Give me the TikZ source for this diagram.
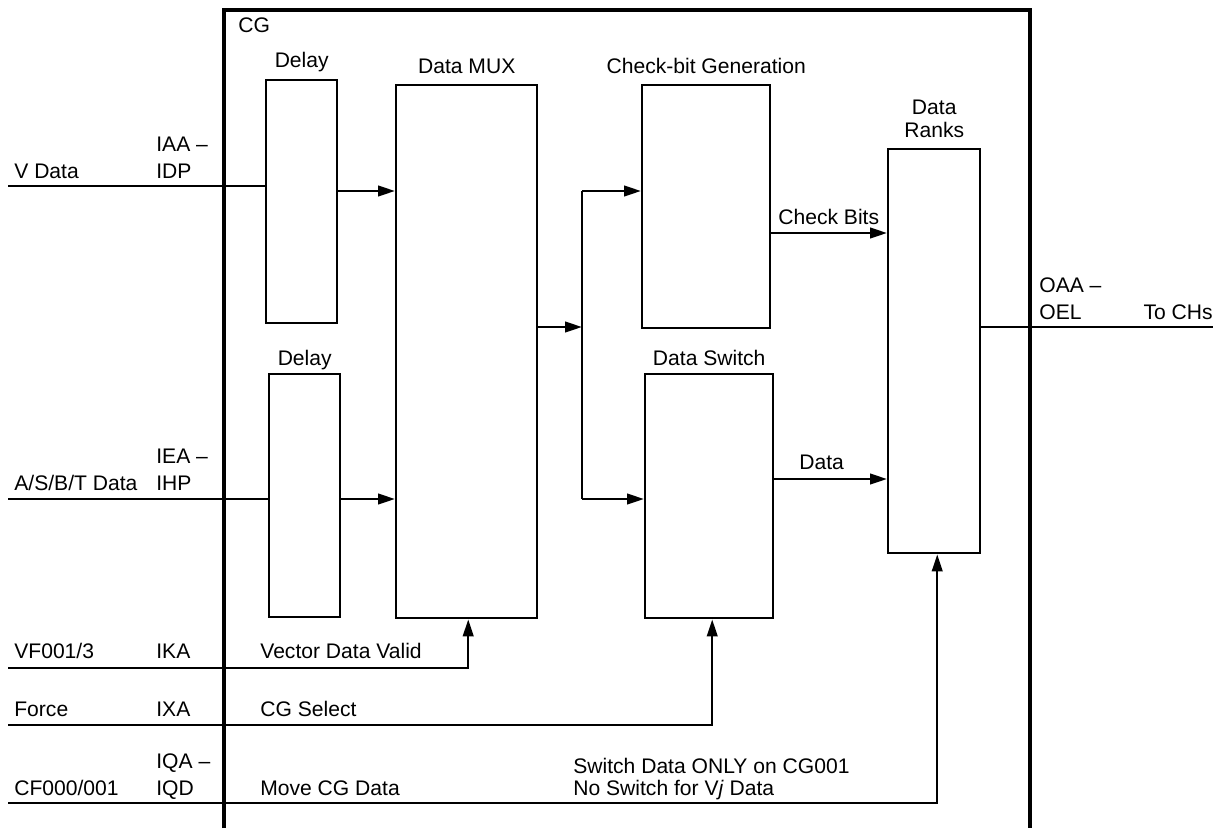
\documentclass[tikz,border=0pt]{standalone}
\usepackage{fontspec}
\setmainfont{Liberation Sans}
\usetikzlibrary{arrows.meta,positioning}

\begin{document}
\begin{tikzpicture}[
  x=0.02cm, y=-0.02cm,
  box/.style={rectangle, draw=black, line width=1.4pt, inner sep=0pt, anchor=north west},
  ttl/.style={inner sep=0pt, text depth=0pt, align=center, font=\fontsize{12}{13}\selectfont},
  lbl/.style={inner sep=0pt, text depth=0pt, anchor=south west, align=left, font=\fontsize{12}{15.4}\selectfont},
  wire/.style={line width=1.4pt},
  arrow/.style={-{Triangle[length=3.4mm, width=2.1mm]}, line width=1.4pt},
  frame/.style={line width=2.2pt}
]
\useasboundingbox (0,0) rectangle (1223,828);

% CG frame, open at the bottom
\draw[frame] (224,828) -- (224,10) -- (1030,10) -- (1030,828);
\node[lbl] (cgt) at (238,33) {CG};

% blocks
\node[box, minimum width=1.42cm, minimum height=4.86cm] (dly1) at (265,79) {};
\node[box, minimum width=1.42cm, minimum height=4.86cm] (dly2) at (268,373) {};
\node[box, minimum width=2.82cm, minimum height=10.66cm] (mux) at (395,84) {};
\node[box, minimum width=2.56cm, minimum height=4.86cm] (chk) at (641,84) {};
\node[box, minimum width=2.56cm, minimum height=4.88cm] (swt) at (644,373) {};
\node[box, minimum width=1.84cm, minimum height=8.08cm] (rnk) at (887,148) {};

\node[ttl, above=0.22cm of dly1] (dly1t) {Delay};
\node[ttl, above=0.14cm of dly2] (dly2t) {Delay};
\node[ttl, above=0.2cm of mux] (muxt) {Data MUX};
\node[ttl, above=0.2cm of chk] (chkt) {Check-bit Generation};
\node[ttl, above=0.14cm of swt] (swtt) {Data Switch};
\node[ttl, above=0.2cm of rnk] (rnkt) {Data\\Ranks};

% pins and signal names
\node[lbl] (vdt) at (14,179) {V Data};
\node[lbl] (vpin) at (156,179) {IAA –\\IDP};
\node[lbl] (adt) at (14,491) {A/S/B/T Data};
\node[lbl] (apin) at (156,491) {IEA –\\IHP};
\node[lbl] (vft) at (14,659) {VF001/3};
\node[lbl] (vfpin) at (156,659) {IKA};
\node[lbl] (vfsig) at (260,659) {Vector Data Valid};
\node[lbl] (fct) at (14,717) {Force};
\node[lbl] (fcpin) at (156,717) {IXA};
\node[lbl] (fcsig) at (260,717) {CG Select};
\node[lbl] (cft) at (14,796) {CF000/001};
\node[lbl] (cfpin) at (156,796) {IQA –\\IQD};
\node[lbl] (cfsig) at (260,796) {Move CG Data};
\node[lbl, font=\fontsize{12}{12.6}\selectfont] (note) at (573,796) {Switch Data ONLY on CG001\\No Switch for V\textit{j} Data};
\node[lbl] (cbt) at (778,225) {Check Bits};
\node[lbl] (dtt) at (799,470) {Data};
\node[lbl] (opin) at (1039,320) {OAA –\\OEL};
\node[lbl, anchor=south east] (chs) at (1213,320) {To CHs};

% ends and rows
\coordinate (vin) at (8,186);
\coordinate (ain) at (8,499);
\coordinate (vfin) at (8,668);
\coordinate (fcin) at (8,725);
\coordinate (cfin) at (8,803);
\coordinate (out) at (1213,327);
\coordinate (bus) at (582,327);
\coordinate (vrow) at (0,191);
\coordinate (arow) at (0,499);
\coordinate (cbrow) at (0,233);
\coordinate (drow) at (0,479);

\draw[wire] (vin) -- (vin -| dly1.west);
\draw[wire] (ain) -- (ain -| dly2.west);
\draw[arrow] (dly1.east |- vrow) -- (mux.west |- vrow);
\draw[arrow] (dly2.east |- arow) -- (mux.west |- arow);
\draw[arrow] (mux.east |- bus) -- (bus);
\draw[wire] (bus |- vrow) -- (bus |- arow);
\draw[arrow] (bus |- vrow) -- (chk.west |- vrow);
\draw[arrow] (bus |- arow) -- (swt.west |- arow);
\draw[arrow] (chk.east |- cbrow) -- (rnk.west |- cbrow);
\draw[arrow] (swt.east |- drow) -- (rnk.west |- drow);
\draw[wire] (rnk.east |- out) -- (out);
\draw[arrow] (vfin) -| ([xshift=0.03cm]mux.south);
\draw[arrow] (fcin) -| ([xshift=0.06cm]swt.south);
\draw[arrow] (cfin) -| ([xshift=0.06cm]rnk.south);
\end{tikzpicture}
\end{document}
